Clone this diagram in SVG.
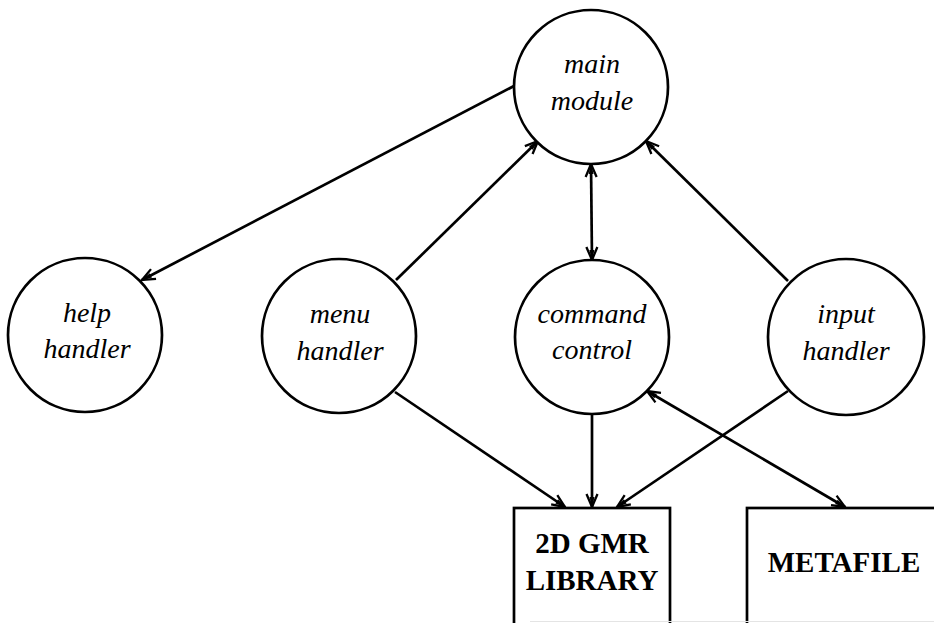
<svg xmlns="http://www.w3.org/2000/svg" width="934" height="623" viewBox="0 0 934 623">
<style>
.node circle{fill:#fff;stroke:#000;stroke-width:2.7}
.node rect{fill:#fff;stroke:#000;stroke-width:2.7}
.lbl{font-family:"Liberation Serif","Times New Roman",serif;font-style:italic;font-size:28px;text-anchor:middle;fill:#000}
.box{font-family:"Liberation Serif","Times New Roman",serif;font-weight:bold;font-size:29px;text-anchor:middle;fill:#000}
#edges line{stroke:#000;stroke-width:2.7;fill:none}
</style>
<defs>
<marker id="ah" viewBox="-15 -8 17 16" refX="0" refY="0" markerWidth="17" markerHeight="16" markerUnits="userSpaceOnUse" orient="auto-start-reverse">
<path d="M-13,-5.5 L0,0 L-13,5.5" fill="none" stroke="#000" stroke-width="2.3" stroke-linejoin="miter"/>
<path d="M-10,-2.5 L0,0 L-10,2.5 Z" fill="#000"/>
</marker>
</defs>
<rect width="934" height="623" fill="#fff"/>
<g id="edges">
<line x1="514" y1="86" x2="142" y2="280" marker-end="url(#ah)"/>
<line x1="396" y1="280" x2="538" y2="141" marker-end="url(#ah)"/>
<line x1="591" y1="164" x2="592" y2="260" marker-start="url(#ah)" marker-end="url(#ah)"/>
<line x1="788" y1="281" x2="646" y2="141" marker-end="url(#ah)"/>
<line x1="395" y1="392" x2="565" y2="507" marker-end="url(#ah)"/>
<line x1="592" y1="414" x2="592" y2="507" marker-end="url(#ah)"/>
<line x1="788" y1="391" x2="617" y2="507" marker-end="url(#ah)"/>
<line x1="647" y1="391" x2="845" y2="507" marker-start="url(#ah)" marker-end="url(#ah)"/>
</g>
<g id="main" class="node"><circle cx="591" cy="87" r="77"/><text class="lbl" x="592" y="73">main</text><text class="lbl" x="592" y="110">module</text></g>
<g id="help" class="node"><circle cx="85" cy="335" r="77"/><text class="lbl" x="87" y="322">help</text><text class="lbl" x="87" y="358">handler</text></g>
<g id="menu" class="node"><circle cx="339" cy="336" r="77"/><text class="lbl" x="340" y="323">menu</text><text class="lbl" x="340" y="360">handler</text></g>
<g id="command" class="node"><circle cx="592" cy="337" r="77"/><text class="lbl" x="592" y="323">command</text><text class="lbl" x="592" y="359">control</text></g>
<g id="input" class="node"><circle cx="846" cy="337" r="78"/><text class="lbl" x="846" y="323">input</text><text class="lbl" x="846" y="360">handler</text></g>
<g id="library" class="node"><rect x="514" y="508" width="156" height="140"/><text class="box" x="592" y="553">2D GMR</text><text class="box" x="592" y="590">LIBRARY</text></g>
<g id="metafile" class="node"><rect x="747" y="508" width="210" height="140"/><text class="box" x="844" y="572">METAFILE</text></g>
<line x1="530" y1="621.5" x2="934" y2="621.5" stroke="#e4e4e4" stroke-width="1"/>
</svg>
